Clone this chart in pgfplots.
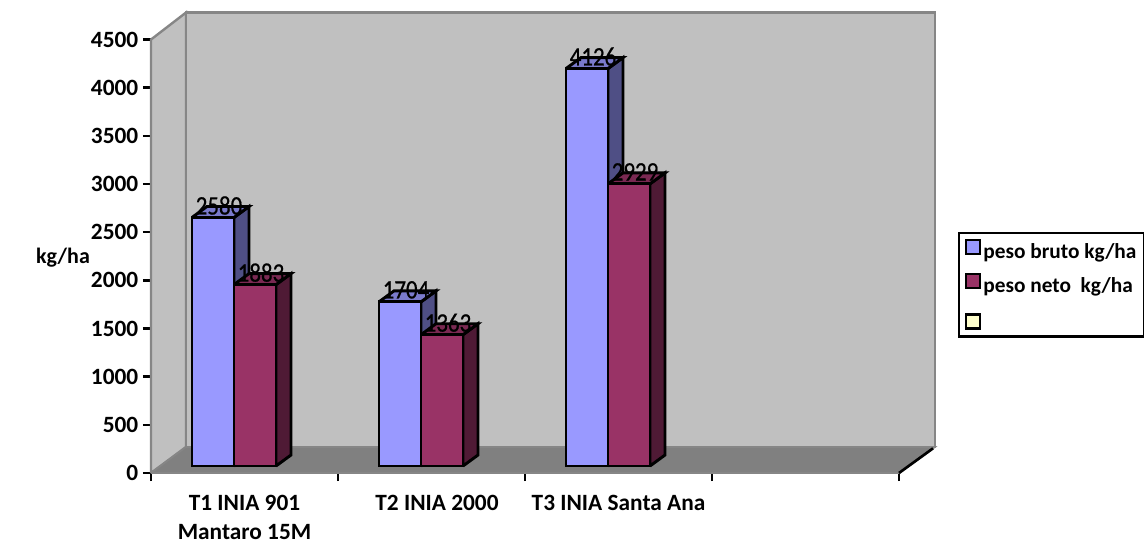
\documentclass[border=0pt]{standalone}
\usepackage{fontspec}
\setmainfont{Carlito}
\newfontfamily\lblfont[FakeStretch=0.86,FakeBold=0.6]{Carlito}
\usepackage{pgfplots}
\pgfplotsset{compat=1.18}
\definecolor{wall}{HTML}{C0C0C0}
\definecolor{wallline}{HTML}{868686}
\definecolor{floorc}{HTML}{808080}
\definecolor{blue1}{HTML}{9999FF}
\definecolor{blue2}{HTML}{7A7ACC}
\definecolor{blue3}{HTML}{4F4F85}
\definecolor{mar1}{HTML}{993366}
\definecolor{mar2}{HTML}{7A2952}
\definecolor{mar3}{HTML}{4F1A35}
\definecolor{yel}{HTML}{FFFFCC}
\begin{document}
\begin{tikzpicture}
\useasboundingbox (-113.25pt,-51.75pt) rectangle (744.75pt,354.75pt);
\begin{axis}[
    scale only axis,
    width=561pt,
    height=325.1pt,
    xmin=0, xmax=748,
    ymin=0, ymax=4500,
    clip=false,
    axis x line*=bottom,
    axis y line*=left,
    axis line style={-, black, line width=2pt},
    tick align=outside,
    major tick length=6pt,
    tick style={black, line width=1.8pt},
    xtick={0,187,374,561,748},
    xticklabels={},
    ytick={0,500,1000,1500,2000,2500,3000,3500,4000,4500},
    yticklabel style={font=\fontsize{17.5}{21}\selectfont\bfseries, /pgf/number format/assume math mode=true, /pgf/number format/set thousands separator={}},
    extra x ticks={93.5,286,467.5},
    extra x tick labels={{T1 INIA 901\\[1pt]Mantaro 15M},{T2 INIA 2000},{T3 INIA Santa Ana}},
    extra x tick style={major tick length=0pt, tick label style={font=\fontsize{17.5}{21}\selectfont\bfseries, align=center, anchor=north, inner sep=0pt, yshift=-16.3pt}},
    legend style={at={(axis cs:807,2502)}, anchor=north west, draw=black, line width=1.8pt, font=\fontsize{16}{19}\selectfont\bfseries, legend cell align=left, row sep=6.5pt, inner xsep=4pt, inner ysep=4pt},
    legend image code/.code={\draw[#1, line width=1.6pt] (0pt,-7.5pt) rectangle (10.5pt,3pt);},
    every node near coord/.style={anchor=center, xshift=4.5pt, yshift=9pt, font=\fontsize{20}{24}\lblfont\selectfont, black, /pgf/number format/assume math mode=true, /pgf/number format/set thousands separator={}},
]
% walls and floor
\addplot[forget plot, fill=wall, draw=wallline, line width=1.8pt] coordinates {(0,0) (35,270) (35,4780) (0,4500) (0,0)};
\addplot[forget plot, fill=wall, draw=wallline, line width=1.8pt] coordinates {(35,270) (784,270) (784,4780) (35,4780) (35,270)};
\addplot[forget plot, fill=floorc, draw=wallline, line width=1.2pt] coordinates {(0,0) (35,270) (784,270) (748,0) (0,0)};
\addplot[forget plot, black, line width=2pt] coordinates {(748,0) (782,256)};

% peso bruto sides and tops
\addplot[forget plot, yshift=5.25pt, fill=blue3, draw=black, line width=2.2pt] coordinates {(83,0) (98,114) (98,2694) (83,2580) (83,0)};
\addplot[forget plot, yshift=5.25pt, fill=blue2, draw=black, line width=2.2pt] coordinates {(41,2580) (56,2694) (98,2694) (83,2580) (41,2580)};
\addplot[forget plot, yshift=5.25pt, fill=blue3, draw=black, line width=2.2pt] coordinates {(270,0) (285,114) (285,1818) (270,1704) (270,0)};
\addplot[forget plot, yshift=5.25pt, fill=blue2, draw=black, line width=2.2pt] coordinates {(228,1704) (243,1818) (285,1818) (270,1704) (228,1704)};
\addplot[forget plot, yshift=5.25pt, fill=blue3, draw=black, line width=2.2pt] coordinates {(457,0) (472,114) (472,4240) (457,4126) (457,0)};
\addplot[forget plot, yshift=5.25pt, fill=blue2, draw=black, line width=2.2pt] coordinates {(415,4126) (430,4240) (472,4240) (457,4126) (415,4126)};
% peso bruto fronts
\addplot[ybar, bar width=31.5pt, bar shift=0pt, yshift=5.25pt, fill=blue1, draw=black, line width=2.2pt,
    nodes near coords, point meta=y] coordinates {(62,2580) (249,1704) (436,4126)};
\addlegendentry{\strut peso bruto kg/ha}

% peso neto sides and tops
\addplot[forget plot, yshift=5.25pt, fill=mar3, draw=black, line width=2.2pt] coordinates {(125,0) (140,114) (140,1997) (125,1883) (125,0)};
\addplot[forget plot, yshift=5.25pt, fill=mar2, draw=black, line width=2.2pt] coordinates {(83,1883) (98,1997) (140,1997) (125,1883) (83,1883)};
\addplot[forget plot, yshift=5.25pt, fill=mar3, draw=black, line width=2.2pt] coordinates {(312,0) (327,114) (327,1477) (312,1363) (312,0)};
\addplot[forget plot, yshift=5.25pt, fill=mar2, draw=black, line width=2.2pt] coordinates {(270,1363) (285,1477) (327,1477) (312,1363) (270,1363)};
\addplot[forget plot, yshift=5.25pt, fill=mar3, draw=black, line width=2.2pt] coordinates {(499,0) (514,114) (514,3043) (499,2929) (499,0)};
\addplot[forget plot, yshift=5.25pt, fill=mar2, draw=black, line width=2.2pt] coordinates {(457,2929) (472,3043) (514,3043) (499,2929) (457,2929)};
% peso neto fronts
\addplot[ybar, bar width=31.5pt, bar shift=0pt, yshift=5.25pt, fill=mar1, draw=black, line width=2.2pt,
    nodes near coords, point meta=y] coordinates {(104,1883) (291,1363) (478,2929)};
\addlegendentry{\strut peso neto\ \ kg/ha}

\addlegendimage{fill=yel, draw=black}
\addlegendentry{\strut}

\node[font=\fontsize{16.5}{20}\selectfont\bfseries] at (axis cs:-88,2240) {kg/ha};
\end{axis}
\end{tikzpicture}
\end{document}
